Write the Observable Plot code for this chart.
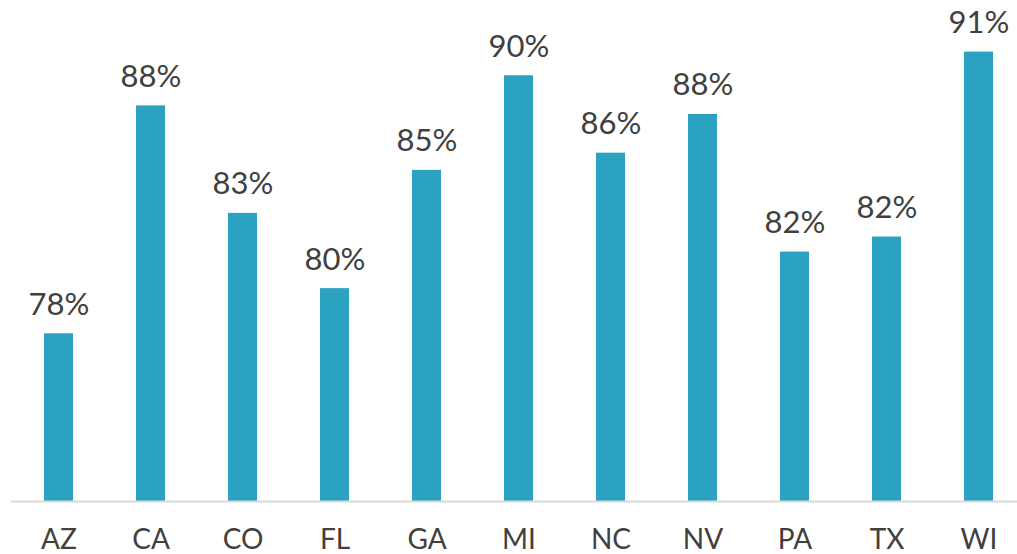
<!DOCTYPE html>
<html>
<head>
<meta charset="utf-8">
<script src="https://cdn.jsdelivr.net/npm/d3@7"></script>
<script src="https://cdn.jsdelivr.net/npm/@observablehq/plot@0.6"></script>
<style>
  html, body { margin: 0; padding: 0; background: #fff; }
  #chart svg { display: block; }
</style>
</head>
<body>
<div id="chart"></div>
<script>
const states = ["AZ", "CA", "CO", "FL", "GA", "MI", "NC", "NV", "PA", "TX", "WI"];
const values = [77.8, 88.4, 83.4, 79.9, 85.4, 89.8, 86.2, 88.0, 81.6, 82.3, 90.9];
const baselineValue = 70;

const data = states.map((s, i) => ({state: s, value: values[i]}));
const fmt = d => d3.format(".0f")(d.value) + "%";

const chart = Plot.plot({
  width: 1017,
  height: 554,
  marginTop: 0,
  marginBottom: 53,
  marginLeft: 43,
  marginRight: 24,
  style: {fontFamily: "Lato, sans-serif", color: "#404040", background: "#fff"},
  x: {domain: states, paddingInner: 0.685, paddingOuter: 0, label: null},
  y: {domain: [70, 93.3], axis: null},
  marks: [
    Plot.barY(data, {x: "state", y1: baselineValue, y2: "value", fill: "#2ba2bf"}),
    Plot.ruleY([baselineValue], {stroke: "#d9d9d9", strokeWidth: 2, insetLeft: -32, insetRight: -24}),
    Plot.text(data, {x: "state", y: "value", text: fmt, lineAnchor: "bottom", dy: -19, fontSize: 31, fill: "#404040"}),
    Plot.axisX({tickSize: 0, tickPadding: 28, fontSize: 28, fill: "#404040", label: null})
  ]
});
document.getElementById("chart").appendChild(chart);
</script>
</body>
</html>
